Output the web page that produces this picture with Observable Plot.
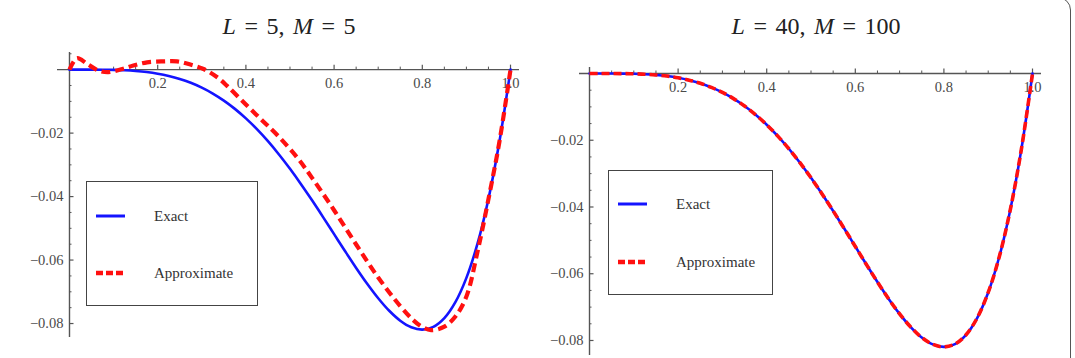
<!DOCTYPE html>
<html>
<head>
<meta charset="utf-8">
<script src="https://cdn.jsdelivr.net/npm/d3@7"></script>
<script src="https://cdn.jsdelivr.net/npm/@observablehq/plot@0.6"></script>
<style>
  body { margin: 0; background: #fff; }
  #wrap { position: relative; width: 1075px; height: 358px; overflow: hidden; font-family: "Liberation Serif", serif; }
  #wrap svg.panel { position: absolute; top: 0; }
  .frame { position: absolute; left: -20px; top: -3px; width: 1091px; height: 420px; box-sizing: border-box;
           border: 1.5px solid #555; border-radius: 13px; }
  .title { position: absolute; top: 14px; width: 400px; text-align: center; font-size: 24px; line-height: 24px;
           color: #222; word-spacing: 2.5px; white-space: nowrap; }
  .legend { position: absolute; box-sizing: border-box; border: 1.8px solid #444; background: #fff; }
  .legend .row { position: absolute; left: 9px; height: 16px; display: flex; align-items: center; white-space: nowrap; }
  .legend .row svg { display: block; margin-right: 29px; }
  .legend .row span { font-size: 15px; color: #333; }
</style>
</head>
<body>
<div id="wrap"><div class="frame"></div></div>
<script>
// x positions of the sampled curves
const xs = [0, 0.025, 0.05, 0.075, 0.1, 0.125, 0.15, 0.175, 0.2, 0.225, 0.25, 0.275, 0.3, 0.325, 0.35, 0.375,
            0.4, 0.425, 0.45, 0.475, 0.5, 0.525, 0.55, 0.575, 0.6, 0.625, 0.65, 0.675, 0.7, 0.725, 0.75, 0.775,
            0.8, 0.825, 0.85, 0.875, 0.9, 0.925, 0.95, 0.975, 1];

// exact solution
const exactU = [0, 0, 0, -0.00003, -0.00009, -0.00021, -0.00043, -0.00077, -0.00128, -0.00199, -0.00293, -0.00415,
                -0.00567, -0.00753, -0.00975, -0.01236, -0.01536, -0.01876, -0.02255, -0.02673, -0.03125, -0.03609,
                -0.04118, -0.04646, -0.05184, -0.05722, -0.06248, -0.06747, -0.07203, -0.07598, -0.07910, -0.08117,
                -0.08192, -0.08107, -0.07830, -0.07327, -0.06561, -0.05491, -0.04073, -0.02259, 0];

// approximation with L = 5, M = 5
const approx5X = [0, 0.017, 0.04, 0.066, 0.088, 0.12, 0.145, 0.176, 0.213, 0.244, 0.274, 0.304, 0.335, 0.358,
                  0.4, 0.437, 0.475, 0.518, 0.55, 0.6, 0.65, 0.7, 0.75, 0.78, 0.8, 0.82, 0.85, 0.875, 0.9, 0.925,
                  0.95, 0.975, 1];
const approx5U = [0, 0.0036, 0.0018, -0.0003, -0.0008, 0.0002, 0.0013, 0.0023, 0.0026, 0.0026, 0.0016, 0.0002,
                  -0.0024, -0.0052, -0.0110, -0.0160, -0.0212, -0.0280, -0.0341, -0.0443, -0.0551, -0.0655,
                  -0.0745, -0.0790, -0.0811, -0.0821, -0.0810, -0.0778, -0.0715, -0.0575, -0.0408, -0.0226, 0];

// approximation with L = 40, M = 100
const approx40U = [0, 0, 0, -0.00003, -0.00009, -0.00021, -0.00043, -0.00077, -0.00128, -0.00199, -0.00293, -0.00415,
                   -0.00567, -0.00753, -0.00975, -0.01236, -0.01536, -0.01876, -0.02255, -0.02673, -0.03125, -0.03609,
                   -0.04118, -0.04646, -0.05184, -0.05722, -0.06248, -0.06747, -0.07203, -0.07598, -0.07910, -0.08117,
                   -0.08192, -0.08107, -0.07830, -0.07327, -0.06561, -0.05491, -0.04073, -0.02259, 0];

// axis ticks and labels
const xMajor = [0.2, 0.4, 0.6, 0.8, 1.0];
const xLabels = ["0.2", "0.4", "0.6", "0.8", "1.0"];
const xMinor = [0.05, 0.1, 0.15, 0.25, 0.3, 0.35, 0.45, 0.5, 0.55, 0.65, 0.7, 0.75, 0.85, 0.9, 0.95];
const yMajor = [-0.02, -0.04, -0.06, -0.08];
const yLabels = ["\u22120.02", "\u22120.04", "\u22120.06", "\u22120.08"];
const yMinor = [0.005, -0.005, -0.01, -0.015, -0.025, -0.03, -0.035, -0.045, -0.05, -0.055, -0.065, -0.07, -0.075];

const titles = [["L", "5", "M", "5"], ["L", "40", "M", "100"]];
const seriesNames = ["Exact", "Approximate"];

const BLUE = "#1414ff", RED = "#ff1010", AXIS = "#555", LABEL = "#4a4a4a";
const H = 358;

const exactRows = xs.map((x, i) => ({x, u: exactU[i]}));
const approx5Rows = approx5X.map((x, i) => ({x, u: approx5U[i]}));
const approx40Rows = xs.map((x, i) => ({x, u: approx40U[i]}));

function panel({width, ml, mr, mt, mb, xDomain, yDomain, approx, dash, redWidth}) {
  const pxX = (width - ml - mr) / (xDomain[1] - xDomain[0]);
  const pxY = (H - mt - mb) / (yDomain[1] - yDomain[0]);
  const yMin = yMinor.filter(v => v >= yDomain[0] && v <= yDomain[1]);
  const svg = Plot.plot({
    width, height: H,
    marginLeft: ml, marginRight: mr, marginTop: mt, marginBottom: mb,
    x: {domain: xDomain, axis: null},
    y: {domain: yDomain, axis: null},
    style: {fontFamily: "'Liberation Serif', serif", fontSize: "14.5px", background: "transparent", overflow: "visible"},
    marks: [
      Plot.ruleY([0], {stroke: AXIS, strokeWidth: 1.4}),
      Plot.ruleX([0], {stroke: AXIS, strokeWidth: 1.4}),
      Plot.ruleX(xMinor, {x: d => d, y1: 0, y2: 2.5 / pxY, stroke: AXIS, strokeWidth: 1}),
      Plot.ruleX(xMajor, {x: d => d, y1: 0, y2: 4.5 / pxY, stroke: AXIS, strokeWidth: 1.2}),
      Plot.ruleY(yMin, {y: d => d, x1: 0, x2: 2.5 / pxX, stroke: AXIS, strokeWidth: 1}),
      Plot.ruleY(yMajor, {y: d => d, x1: 0, x2: 4.5 / pxX, stroke: AXIS, strokeWidth: 1.2}),
      Plot.text(xMajor, {x: d => d, y: 0, dy: 14, text: (d, i) => xLabels[i], fill: LABEL}),
      Plot.text(yMajor, {x: 0, y: d => d, dx: -6, textAnchor: "end", text: (d, i) => yLabels[i], fill: LABEL}),
      Plot.line(exactRows, {x: "x", y: "u", stroke: BLUE, strokeWidth: 2.6, curve: "catmull-rom"}),
      Plot.line(approx, {x: "x", y: "u", stroke: RED, strokeWidth: redWidth, strokeDasharray: dash,
                         strokeLinecap: "butt", strokeLinejoin: "round", curve: "catmull-rom"})
    ]
  });
  svg.classList.add("panel");
  return svg;
}

const wrap = document.getElementById("wrap");

const left = panel({width: 537, ml: 57, mr: 18, mt: 52, mb: 21,
  xDomain: [-0.0272, 1.0204], yDomain: [-0.0844, 0.0054], approx: approx5Rows, dash: "9 5", redWidth: 4.2});
left.style.left = "0px";
wrap.appendChild(left);

const right = panel({width: 538, ml: 42, mr: 34, mt: 67, mb: 3,
  xDomain: [-0.0226, 1.0203], yDomain: [-0.0845, 0.0018], approx: approx40Rows, dash: "8 4", redWidth: 3.6});
right.style.left = "537px";
wrap.appendChild(right);

// panel titles
[[289, titles[0]], [816, titles[1]]].forEach(([cx, t]) => {
  const d = document.createElement("div");
  d.className = "title";
  d.style.left = (cx - 200) + "px";
  d.innerHTML = `<i>${t[0]}</i> = ${t[1]}, <i>${t[2]}</i> = ${t[3]}`;
  wrap.appendChild(d);
});

// legends
function legend(x, y, w, h, rowTops) {
  const box = document.createElement("div");
  box.className = "legend";
  Object.assign(box.style, {left: x + "px", top: y + "px", width: w + "px", height: h + "px"});
  seriesNames.forEach((name, i) => {
    const row = document.createElement("div");
    row.className = "row";
    row.style.top = rowTops[i] + "px";
    const dashAttr = i === 1 ? 'stroke-dasharray="7 3"' : "";
    const col = i === 0 ? BLUE : RED;
    const sw = i === 0 ? 3 : 4.5;
    row.innerHTML = `<svg width="29" height="10"><line x1="0" y1="5" x2="29" y2="5" stroke="${col}" stroke-width="${sw}" ${dashAttr}/></svg><span>${name}</span>`;
    box.appendChild(row);
  });
  wrap.appendChild(box);
}
legend(86, 181, 172, 125, [26, 83]);
legend(608, 170, 165, 125, [25, 83]);
</script>
</body>
</html>
